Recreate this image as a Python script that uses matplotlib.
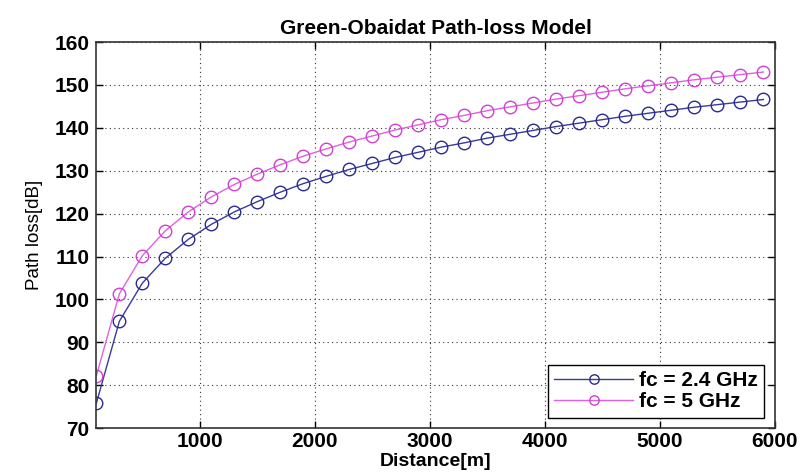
import matplotlib
matplotlib.use("Agg")
import matplotlib.pyplot as plt

plt.rcParams["font.family"] = ["Liberation Sans", "DejaVu Sans"]

# distances [m] and path loss [dB]
distance = [100, 300, 500, 700, 900, 1100, 1300, 1500, 1700, 1900,
            2100, 2300, 2500, 2700, 2900, 3100, 3300, 3500, 3700, 3900,
            4100, 4300, 4500, 4700, 4900, 5100, 5300, 5500, 5700, 5900]
pl_24 = [75.8, 94.9, 103.8, 109.6, 114.0, 117.5, 120.4, 122.8, 125.0, 127.0,
         128.7, 130.3, 131.7, 133.1, 134.3, 135.5, 136.5, 137.6, 138.5, 139.4,
         140.3, 141.1, 141.9, 142.7, 143.4, 144.1, 144.8, 145.4, 146.0, 146.6]
pl_5 = [82.2, 101.3, 110.2, 116.0, 120.4, 123.9, 126.8, 129.2, 131.4, 133.4,
        135.1, 136.7, 138.1, 139.5, 140.7, 141.9, 142.9, 144.0, 144.9, 145.8,
        146.7, 147.5, 148.3, 149.1, 149.8, 150.5, 151.2, 151.8, 152.4, 153.0]
labels = ["fc = 2.4 GHz", "fc = 5 GHz"]
xticks = [1000, 2000, 3000, 4000, 5000, 6000]
yticks = [70, 80, 90, 100, 110, 120, 130, 140, 150, 160]

fig = plt.figure(figsize=(8.03, 4.72), dpi=100)
ax = fig.add_axes([0.12, 0.093, 0.845, 0.818])

ax.plot(distance, pl_24, "-o", color="#3a3a9a", mfc="none", mec="#2a2a90",
        ms=9, lw=1.0, mew=1.0, label=labels[0])
ax.plot(distance, pl_5, "-o", color="#e060e0", mfc="none", mec="#d040d0",
        ms=9, lw=1.0, mew=1.0, label=labels[1])

ax.set_xlim(100, 6000)
ax.set_ylim(70, 160)
ax.set_xticks(xticks)
ax.set_yticks(yticks)
ax.grid(True, linestyle=(0, (1, 3)), color="#333333", lw=0.8)
ax.tick_params(direction="in", top=True, right=True, length=5, width=1,
               labelsize=15, pad=5)
ax.tick_params(axis="x", pad=3)
for t in ax.get_xticklabels() + ax.get_yticklabels():
    t.set_fontweight("bold")
for s in ax.spines.values():
    s.set_linewidth(1.2)
    s.set_color("#333333")

ax.set_title("Green-Obaidat Path-loss Model", fontsize=15, fontweight="bold", pad=6)
ax.set_xlabel("Distance[m]", fontsize=14, fontweight="bold", labelpad=1)
ax.set_ylabel("Path loss[dB]", fontsize=13.5, labelpad=8)

leg = ax.legend(loc="lower right", fancybox=False, framealpha=1,
                edgecolor="black", prop={"size": 15, "weight": "bold"},
                handlelength=3.8, borderpad=0.3, labelspacing=0.1,
                borderaxespad=0.5, handletextpad=0.3, markerscale=0.75)
leg.get_frame().set_linewidth(1.0)

fig.savefig("out.png", dpi=100)
